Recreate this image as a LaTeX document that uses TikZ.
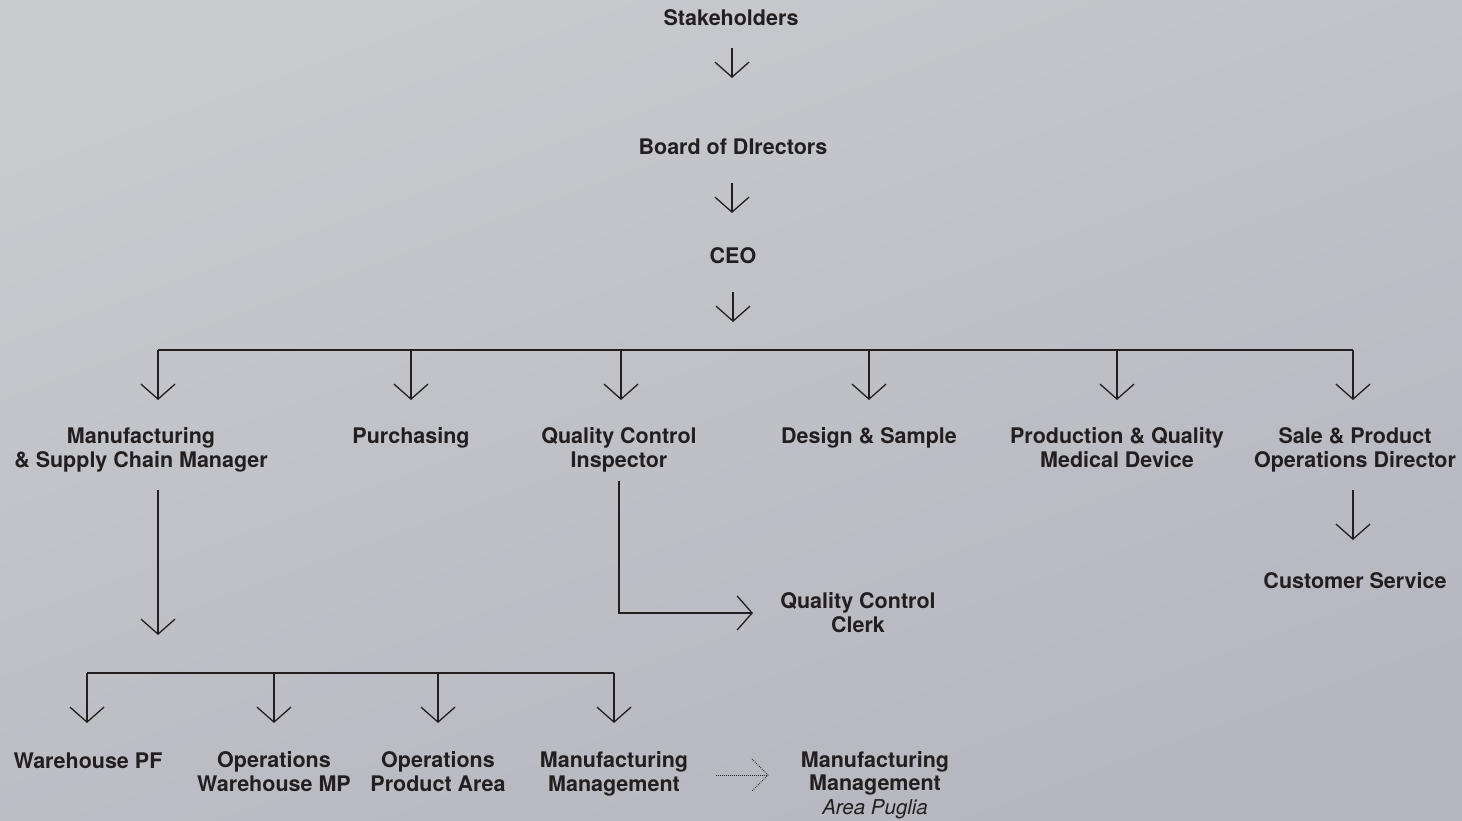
\documentclass[tikz,border=0pt]{standalone}
\usepackage{fontspec}
\setmainfont{TeX Gyre Heros}
\usetikzlibrary{arrows.meta}
\definecolor{bgtop}{HTML}{C9CACE}
\definecolor{bgbot}{HTML}{B6B7BF}
\definecolor{ink}{HTML}{231F20}
\begin{document}
\begin{tikzpicture}[x=1pt,y=-1pt,
  lbl/.style={font=\fontsize{21.5}{23.5}\selectfont\bfseries, text=ink, align=center, inner sep=0pt, anchor=base},
  conn/.style={draw=ink, line width=1.3pt, line join=miter},
  arr/.style={conn, -{Straight Barb[length=15pt,width=34pt,line width=1.3pt]}},
  dotline/.style={draw=ink, line width=1pt, dash pattern=on 0.8pt off 1.2pt}]
\shade[top color=bgtop, bottom color=bgbot, shading angle=20] (0,0) rectangle (1462,821);
\useasboundingbox (0,0) rectangle (1462,821);

% labels (anchor = baseline of last line)
\node[lbl] (stake) at (731,25.5) {Stakeholders};
\node[lbl] (board) at (733,155) {Board of DIrectors};
\node[lbl] (ceo) at (733,263) {CEO};
\node[lbl] (manuf) at (141,467) {Manufacturing\\\& Supply Chain Manager};
\node[lbl] (purch) at (411,443.5) {Purchasing};
\node[lbl] (qci) at (619,467) {Quality Control\\Inspector};
\node[lbl] (design) at (869,443.5) {Design \& Sample};
\node[lbl] (prod) at (1117,467) {Production \& Quality\\Medical Device};
\node[lbl] (sale) at (1355,467) {Sale \& Product\\Operations Director};
\node[lbl] (cust) at (1355,588) {Customer Service};
\node[lbl] (qcc) at (858,632) {Quality Control\\Clerk};
\node[lbl] (wpf) at (88,768) {Warehouse PF};
\node[lbl] (owmp) at (274,791) {Operations\\Warehouse MP};
\node[lbl] (opa) at (438,791) {Operations\\Product Area};
\node[lbl] (mm) at (614,791) {Manufacturing\\Management};
\node[lbl] (mmp) at (875,814) {Manufacturing\\Management\\{\mdseries\itshape\fontsize{20.5}{23.5}\selectfont Area Puglia}};

% coordinates
\coordinate (s1) at (732,48);  \coordinate (e1) at (732,78);
\coordinate (s2) at (732,183); \coordinate (e2) at (732,213);
\coordinate (s3) at (733,292); \coordinate (e3) at (733,322);
\coordinate (busL) at (158,350); \coordinate (busR) at (1353,350);
\foreach \n/\x in {b1/158,b2/411,b3/621,b4/869,b5/1117,b6/1353}{
  \coordinate (\n) at (\x,350); \coordinate (\n t) at (\x,400);}
\coordinate (ms) at (158,490); \coordinate (me) at (158,635);
\coordinate (bus2L) at (87,673); \coordinate (bus2R) at (614,673);
\foreach \n/\x in {c1/87,c2/274,c3/438,c4/614}{
  \coordinate (\n) at (\x,673); \coordinate (\n t) at (\x,723);}
\coordinate (qs) at (619,481); \coordinate (qc) at (619,613); \coordinate (qe) at (753,613);
\coordinate (ss) at (1353,490); \coordinate (se) at (1353,540);
\coordinate (ds) at (716,775); \coordinate (de) at (768,775);
\coordinate (dh1) at (752,759); \coordinate (dh2) at (752,791);

% connectors
\draw[arr] (s1) -- (e1);
\draw[arr] (s2) -- (e2);
\draw[arr] (s3) -- (e3);
\draw[conn] (busL) -- (busR);
\foreach \n in {b1,b2,b3,b4,b5,b6}{\draw[arr] (\n) -- (\n t);}
\draw[arr] (ms) -- (me);
\draw[conn] (bus2L) -- (bus2R);
\foreach \n in {c1,c2,c3,c4}{\draw[arr] (\n) -- (\n t);}
\draw[arr] (qs) -- (qc) -- (qe);
\draw[arr] (ss) -- (se);
\draw[dotline] (ds) -- (de);
\draw[dotline] (dh1) -- (de) -- (dh2);
\end{tikzpicture}
\end{document}
